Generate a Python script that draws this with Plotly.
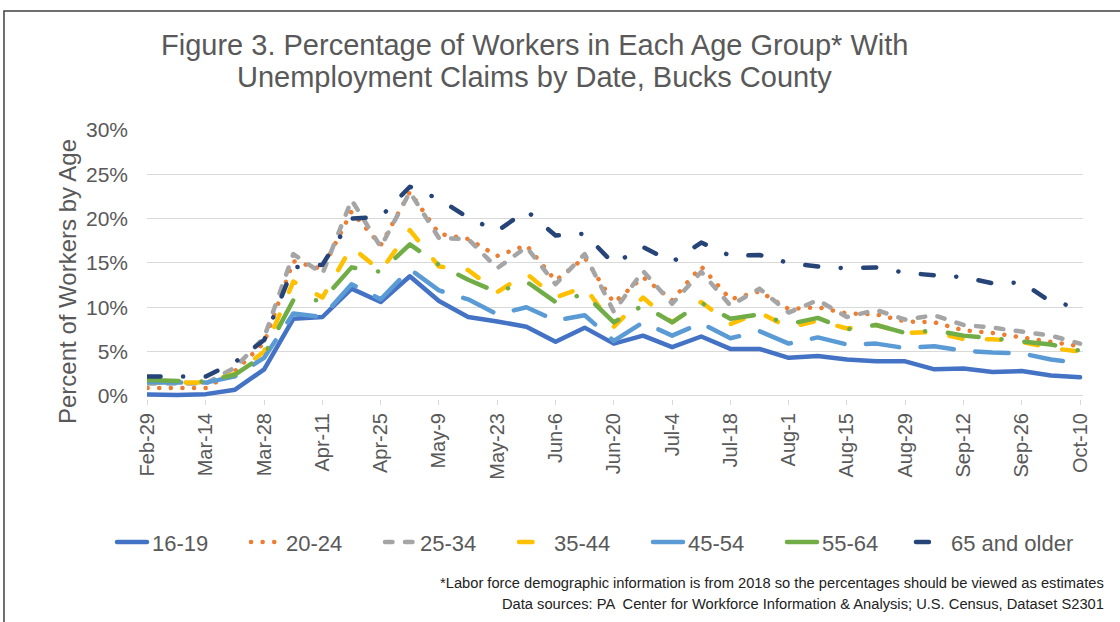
import plotly.graph_objects as go

weeks = ["Feb-29", "Mar-7", "Mar-14", "Mar-21", "Mar-28", "Apr-4", "Apr-11", "Apr-18",
         "Apr-25", "May-2", "May-9", "May-16", "May-23", "May-30", "Jun-6", "Jun-13",
         "Jun-20", "Jun-27", "Jul-4", "Jul-11", "Jul-18", "Jul-25", "Aug-1", "Aug-8",
         "Aug-15", "Aug-22", "Aug-29", "Sep-5", "Sep-12", "Sep-19", "Sep-26", "Oct-3", "Oct-10"]
tick_labels = weeks[::2]
y_ticks = [0, 5, 10, 15, 20, 25, 30]
y_tick_text = ["0%", "5%", "10%", "15%", "20%", "25%", "30%"]

age_16_19 = [0.15, 0.1, 0.2, 0.7, 3.0, 8.7, 8.9, 12.1, 10.6, 13.5, 10.7, 8.9, 8.4, 7.8, 6.1, 7.7,
             5.9, 6.8, 5.5, 6.7, 5.3, 5.3, 4.3, 4.5, 4.1, 3.9, 3.9, 3.0, 3.1, 2.7, 2.8, 2.3, 2.1]
age_20_24 = [0.9, 0.9, 0.9, 2.8, 6.0, 15.2, 14.3, 20.8, 17.0, 23.0, 18.3, 17.7, 15.8, 17.0, 13.0, 15.6,
             10.5, 13.4, 10.8, 14.6, 10.9, 11.8, 9.8, 10.0, 9.3, 9.2, 8.4, 8.3, 7.4, 7.1, 6.6, 6.2, 5.6]
age_25_34 = [1.4, 1.4, 1.4, 3.2, 6.6, 16.0, 13.8, 22.1, 16.8, 23.0, 17.8, 17.7, 14.4, 16.8, 12.6, 16.0,
             9.5, 14.1, 10.4, 14.0, 10.2, 12.1, 9.4, 10.8, 8.9, 9.7, 8.6, 9.1, 8.0, 7.7, 7.2, 6.8, 5.9]
age_35_44 = [1.5, 1.5, 1.5, 2.5, 5.0, 12.9, 11.1, 16.8, 14.1, 18.7, 14.6, 14.2, 11.7, 13.8, 11.1, 12.3,
             7.8, 11.1, 8.3, 10.6, 8.1, 9.4, 7.7, 8.5, 7.6, 8.0, 7.1, 7.2, 6.4, 6.4, 6.1, 5.4, 5.0]
age_45_54 = [1.5, 1.5, 1.5, 2.2, 4.3, 9.3, 8.9, 12.6, 10.9, 14.3, 11.9, 10.9, 9.2, 10.0, 8.5, 9.1,
             6.2, 8.3, 6.8, 8.2, 6.5, 7.3, 5.9, 6.6, 5.8, 5.9, 5.4, 5.6, 5.1, 4.9, 4.8, 4.1, 3.7]
age_55_64 = [1.8, 1.7, 1.6, 2.4, 4.6, 10.8, 10.8, 14.5, 14.0, 17.1, 14.8, 13.1, 11.7, 12.9, 10.6, 11.5,
             8.3, 10.2, 8.3, 10.5, 8.7, 9.2, 8.1, 8.8, 7.5, 8.0, 7.1, 7.4, 6.8, 6.5, 6.2, 5.8, 5.1]
age_65_plus = [2.2, 2.2, 2.2, 3.8, 6.3, 14.5, 14.8, 20.0, 20.2, 23.6, 22.2, 20.1, 18.6, 20.9, 18.1, 18.3,
               14.9, 16.8, 15.1, 17.3, 15.8, 15.9, 15.0, 14.6, 14.4, 14.5, 13.9, 13.6, 13.4, 12.7, 12.8, 10.6, 10.0]

series_names = ["16-19", "20-24", "25-34", "35-44", "45-54", "55-64", "65 and older"]
series_values = [age_16_19, age_20_24, age_25_34, age_35_44, age_45_54, age_55_64, age_65_plus]
colors = ["#4472C4", "#ED7D31", "#A5A5A5", "#FFC000", "#5B9BD5", "#70AD47", "#264478"]
dashes = ["solid", "0.1px,11.5px", "7.5px,12.5px", "13.5px,24.5px", "33.5px,21.5px",
          "31px,23px,0.1px,23px", "13px,22.5px,0.1px,22.5px"]
legend_ids = ["legend"] * 6 + ["legend2"]

TXT = "#595959"
FONT = "Liberation Sans, Arial, sans-serif"
fig = go.Figure()
for name, vals, col, dsh, lg in zip(series_names, series_values, colors, dashes, legend_ids):
    fig.add_trace(go.Scatter(x=weeks, y=vals, name=name, mode="lines", legend=lg,
                             line=dict(color=col, width=4.5, dash=dsh)))

legend_common = dict(orientation="h", xanchor="left", y=-0.532, yanchor="middle",
                     font=dict(family=FONT, size=22, color=TXT), itemwidth=30, tracegroupgap=0,
                     bgcolor="rgba(0,0,0,0)")

fig.update_layout(
    width=1120, height=622,
    margin=dict(l=147, r=37, t=130, b=223),
    paper_bgcolor="white", plot_bgcolor="white",
    showlegend=True,
    legend=dict(x=-0.0374, entrywidth=89, entrywidthmode="pixels", **legend_common),
    legend2=dict(x=0.8162, **legend_common),
    xaxis=dict(type="category", categoryorder="array", categoryarray=weeks,
               range=[-0.02, 32.1], tickmode="array", tickvals=tick_labels, ticktext=tick_labels,
               tickangle=-90, ticks="outside", ticklen=5, tickcolor="#d9d9d9",
               showgrid=False, showline=False, zeroline=False,
               tickfont=dict(family=FONT, size=20, color=TXT)),
    yaxis=dict(range=[-0.35, 30], tickmode="array", tickvals=y_ticks, ticktext=y_tick_text,
               showgrid=True, gridcolor="#d9d9d9", gridwidth=1.3, zeroline=False, showline=False,
               ticks="", ticklabelstandoff=18, tickfont=dict(family=FONT, size=21, color=TXT)),
    annotations=[
        dict(text="Figure 3. Percentage of Workers in Each Age Group* With",
             x=0.4135, y=1.315, xref="paper", yref="paper", xanchor="center", yanchor="middle",
             showarrow=False, font=dict(family=FONT, size=29, color=TXT)),
        dict(text="Unemployment Claims by Date, Bucks County",
             x=0.4135, y=1.196, xref="paper", yref="paper", xanchor="center", yanchor="middle",
             showarrow=False, font=dict(family=FONT, size=29, color=TXT)),
        dict(text="Percent of Workers by Age", textangle=-90, x=-0.0844, y=0.435,
             xref="paper", yref="paper", xanchor="center", yanchor="middle", showarrow=False,
             font=dict(family=FONT, size=24, color=TXT)),
        dict(text="*Labor force demographic information is from 2018 so the percentages should be viewed as estimates",
             x=1.0246, y=-0.684, xref="paper", yref="paper", xanchor="right", yanchor="middle",
             showarrow=False, font=dict(family=FONT, size=14.7, color="#222222")),
        dict(text="Data sources: PA  Center for Workforce Information &amp; Analysis; U.S. Census, Dataset S2301",
             x=1.0246, y=-0.762, xref="paper", yref="paper", xanchor="right", yanchor="middle",
             showarrow=False, font=dict(family=FONT, size=14.7, color="#222222")),
    ],
    shapes=[dict(type="rect", xref="paper", yref="paper", x0=-0.1528, x1=1.2, y0=-1.2, y1=1.4424,
                 line=dict(color="#404040", width=1.5), fillcolor="rgba(0,0,0,0)", layer="below")],
)

post = ("document.body.style.margin='0';"
        "document.querySelectorAll('path.js-line, .legendlines path').forEach(function(p){"
        "p.style.strokeLinecap='round';p.style.strokeLinejoin='round';});")
fig.write_html("out.html", post_script=post, config={"displayModeBar": False})
